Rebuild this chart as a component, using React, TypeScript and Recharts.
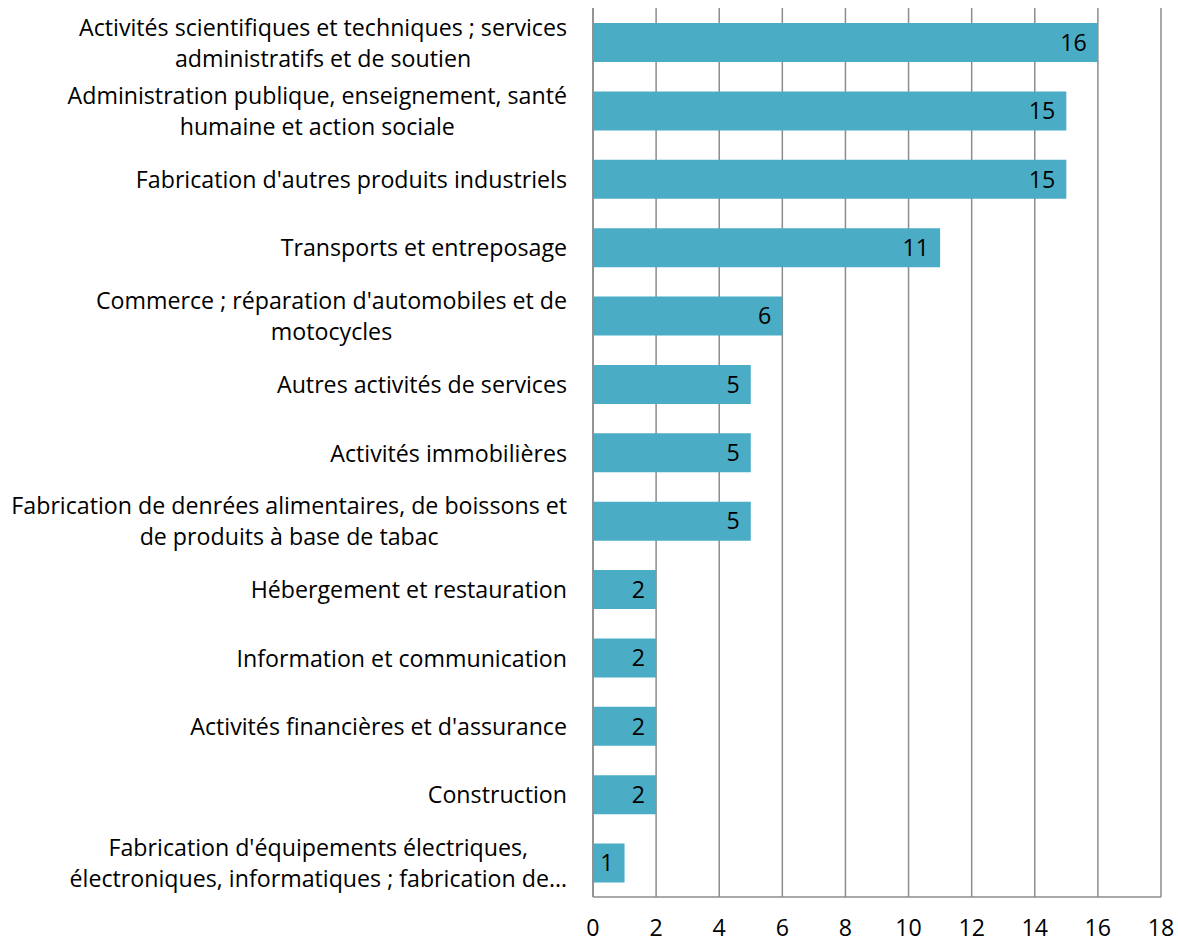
import React from "react";
import { BarChart, Bar, XAxis, YAxis, CartesianGrid, LabelList } from "recharts";

const categories: string[] = [
  "Activités scientifiques et techniques ; services\nadministratifs et de soutien",
  "Administration publique, enseignement, santé\nhumaine et action sociale",
  "Fabrication d'autres produits industriels",
  "Transports et entreposage",
  "Commerce ; réparation d'automobiles et de\nmotocycles",
  "Autres activités de services",
  "Activités immobilières",
  "Fabrication de denrées alimentaires, de boissons et\nde produits à base de tabac",
  "Hébergement et restauration",
  "Information et communication",
  "Activités financières et d'assurance",
  "Construction",
  "Fabrication d'équipements électriques,\nélectroniques, informatiques ; fabrication de…",
];
const values: number[] = [16, 15, 15, 11, 6, 5, 5, 5, 2, 2, 2, 2, 1];
const xTicks: number[] = [0, 2, 4, 6, 8, 10, 12, 14, 16, 18];

const data = categories.map((c, i) => ({ name: c, value: values[i] }));

const FONT = "'Open Sans', sans-serif";
const FS = 23.2;
const GRID = "#8c8c8c";
const BAR = "#4bacc6";

let ctx: CanvasRenderingContext2D | null = null;
function measure(t: string): number {
  if (!ctx) {
    const c = document.createElement("canvas");
    ctx = c.getContext("2d");
  }
  if (!ctx) return t.length * FS * 0.5;
  ctx.font = `${FS}px 'Open Sans'`;
  return ctx.measureText(t).width;
}

const YTick = (props: any) => {
  const { x, y, payload } = props;
  const lines: string[] = String(payload.value).split("\n");
  const widths = lines.map(measure);
  const maxW = Math.max(...widths);
  const right = x - 18;
  const cx = right - maxW / 2;
  const lh = 31;
  const start = -((lines.length - 1) * lh) / 2;
  return (
    <text
      x={cx}
      y={y}
      textAnchor="middle"
      fontFamily={FONT}
      fontSize={FS}
      fill="#000"
      dominantBaseline="central"
    >
      {lines.map((l, i) => (
        <tspan key={i} x={cx} y={y + start + i * lh} dominantBaseline="central">
          {l}
        </tspan>
      ))}
    </text>
  );
};

export default function App() {
  return (
    <div style={{ position: "absolute", left: 0, top: 0, width: 1178, height: 943 }}>
      <BarChart
        width={1178}
        height={943}
        data={data}
        layout="vertical"
        margin={{ top: 8, right: 17, bottom: 6, left: 0 }}
      >
        <CartesianGrid horizontal={false} vertical stroke={GRID} strokeWidth={1.5} />
        <XAxis
          type="number"
          domain={[0, 18]}
          ticks={xTicks}
          interval={0}
          axisLine={{ stroke: GRID, strokeWidth: 1.5 }}
          tickLine={false}
          height={40}
          tickMargin={17}
          tick={{ fontFamily: FONT, fontSize: FS, fill: "#000" }}
        />
        <YAxis
          type="category"
          dataKey="name"
          width={593}
          axisLine={{ stroke: GRID, strokeWidth: 1.5 }}
          tickLine={false}
          interval={0}
          tick={<YTick />}
        />
        <Bar dataKey="value" fill={BAR} barSize={39} isAnimationActive={false}>
          <LabelList
            dataKey="value"
            position="insideRight"
            offset={11}
            fill="#000"
            fontFamily={FONT}
            fontSize={FS}
          />
        </Bar>
      </BarChart>
    </div>
  );
}
